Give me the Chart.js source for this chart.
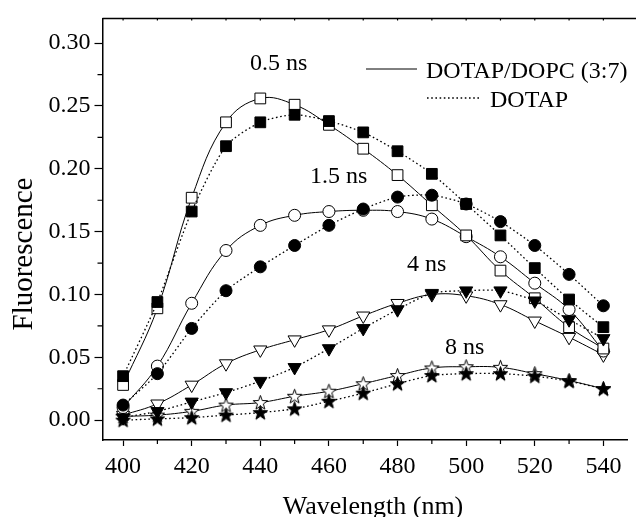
<!DOCTYPE html>
<html>
<head>
<meta charset="utf-8">
<script src="https://cdn.jsdelivr.net/npm/chart.js@4/dist/chart.umd.min.js"></script>
<style>
  html, body { margin: 0; padding: 0; background: #fff; overflow: hidden; }
  #wrap { width: 636px; height: 517px; position: relative; }
</style>
</head>
<body>
<div id="wrap"><canvas id="c" width="636" height="517"></canvas></div>
<script>
// ---- data ----
const wavelengths = [400, 410, 420, 430, 440, 450, 460, 470, 480, 490, 500, 510, 520, 530, 540];

// DOTAP/DOPC (3:7) — open symbols, solid lines
const mix05 = [0.028, 0.089, 0.177, 0.237, 0.256, 0.251, 0.235, 0.216, 0.195, 0.171, 0.147, 0.119, 0.097, 0.074, 0.057];
const mix15 = [0.010, 0.043, 0.093, 0.135, 0.155, 0.163, 0.166, 0.167, 0.166, 0.160, 0.146, 0.130, 0.109, 0.088, 0.055];
const mix4  = [0.004, 0.013, 0.028, 0.045, 0.056, 0.064, 0.072, 0.083, 0.093, 0.100, 0.099, 0.092, 0.079, 0.066, 0.052];
const mix8  = [0.003, 0.004, 0.007, 0.012, 0.014, 0.019, 0.023, 0.029, 0.0355, 0.0415, 0.0425, 0.042, 0.037, 0.0315, 0.025];

// DOTAP — filled symbols, dotted lines
const dot05 = [0.035, 0.094, 0.166, 0.218, 0.237, 0.243, 0.238, 0.229, 0.214, 0.196, 0.172, 0.147, 0.121, 0.096, 0.074];
const dot15 = [0.012, 0.037, 0.073, 0.103, 0.122, 0.139, 0.155, 0.168, 0.1775, 0.179, 0.172, 0.158, 0.139, 0.116, 0.091];
const dot4  = [0.002, 0.007, 0.0145, 0.022, 0.031, 0.042, 0.057, 0.073, 0.088, 0.101, 0.103, 0.103, 0.095, 0.080, 0.065];
const dot8  = [0.000, 0.001, 0.002, 0.004, 0.006, 0.009, 0.015, 0.0215, 0.029, 0.0355, 0.037, 0.037, 0.035, 0.031, 0.025];

const xTicks = [400, 420, 440, 460, 480, 500, 520, 540];
const xMinorTicks = [410, 430, 450, 470, 490, 510, 530];
const yTicks = [0.00, 0.05, 0.10, 0.15, 0.20, 0.25, 0.30];
const yMinorTicks = [0.025, 0.075, 0.125, 0.175, 0.225, 0.275];

const legendLabels = ['DOTAP/DOPC (3:7)', 'DOTAP'];
const timeLabels = ['0.5 ns', '1.5 ns', '4 ns', '8 ns'];
const xTitle = 'Wavelength (nm)';
const yTitle = 'Fluorescence';

// ---- star point style ----
function makeStar(filled) {
  const s = 17, c = document.createElement('canvas');
  c.width = s; c.height = s;
  const g = c.getContext('2d');
  const cx = s / 2, cy = s / 2 + 0.5, R = 7.6, r = 3.1;
  g.beginPath();
  for (let i = 0; i < 10; i++) {
    const a = -Math.PI / 2 + i * Math.PI / 5;
    const rad = i % 2 === 0 ? R : r;
    const px = cx + rad * Math.cos(a), py = cy + rad * Math.sin(a);
    if (i === 0) g.moveTo(px, py); else g.lineTo(px, py);
  }
  g.closePath();
  g.fillStyle = filled ? '#000' : '#fff';
  g.fill();
  g.lineWidth = 1;
  g.strokeStyle = '#000';
  g.stroke();
  return c;
}
const starOpen = makeStar(false);
const starFilled = makeStar(true);

function pts(arr) { return wavelengths.map((w, i) => ({ x: w, y: arr[i] })); }

const FONT = "'Liberation Serif', 'Times New Roman', serif";

function ds(arr, filled, style, radius, rotation) {
  return {
    data: pts(arr),
    borderColor: '#000',
    borderWidth: filled ? 1.3 : 1,
    borderDash: filled ? [1.6, 2.6] : [],
    tension: filled ? 0.25 : 0.4,
    pointStyle: style,
    pointRadius: radius,
    pointRotation: rotation || 0,
    pointBackgroundColor: filled ? '#000' : '#fff',
    pointBorderColor: '#000',
    pointBorderWidth: 1,
    fill: false,
    clip: false
  };
}

const datasets = [
  ds(dot05, true, 'rect', 7.6),
  ds(dot15, true, 'circle', 6),
  ds(dot4, true, 'triangle', 7.6, 180),
  ds(dot8, true, starFilled, 7),
  ds(mix05, false, 'rect', 7.6),
  ds(mix15, false, 'circle', 6),
  ds(mix4, false, 'triangle', 7.6, 180),
  ds(mix8, false, starOpen, 7)
];

const decor = {
  id: 'decor',
  afterDraw(chart) {
    const ctx = chart.ctx, a = chart.chartArea;
    const xs = chart.scales.x, ys = chart.scales.y;
    ctx.save();
    ctx.strokeStyle = '#000';
    // top border
    ctx.lineWidth = 1.5;
    ctx.beginPath();
    ctx.moveTo(a.left, a.top);
    ctx.lineTo(636, a.top);
    ctx.stroke();
    ctx.lineWidth = 1.2;
    // minor ticks
    ctx.beginPath();
    xMinorTicks.forEach(v => {
      const px = xs.getPixelForValue(v);
      ctx.moveTo(px, a.bottom); ctx.lineTo(px, a.bottom + 4);
    });
    yMinorTicks.forEach(v => {
      const py = ys.getPixelForValue(v);
      ctx.moveTo(a.left, py); ctx.lineTo(a.left - 5, py);
    });
    // tiny inward ticks on top
    xTicks.concat(xMinorTicks).forEach(v => {
      const px = xs.getPixelForValue(v);
      ctx.moveTo(px, a.top); ctx.lineTo(px, a.top + 2);
    });
    ctx.stroke();

    // axis titles
    ctx.fillStyle = '#000';
    ctx.textAlign = 'center';
    ctx.textBaseline = 'alphabetic';
    ctx.font = '26px ' + FONT;
    ctx.fillText(xTitle, 373, 514);
    ctx.save();
    ctx.translate(32, 254);
    ctx.rotate(-Math.PI / 2);
    ctx.font = '29px ' + FONT;
    ctx.fillText(yTitle, 0, 0);
    ctx.restore();

    // series annotations
    ctx.font = '24px ' + FONT;
    ctx.textAlign = 'left';
    ctx.fillText(timeLabels[0], 250, 70);
    ctx.fillText(timeLabels[1], 310, 183);
    ctx.fillText(timeLabels[2], 407, 271);
    ctx.fillText(timeLabels[3], 445, 354);

    // legend
    ctx.lineWidth = 1;
    ctx.setLineDash([]);
    ctx.beginPath();
    ctx.moveTo(366, 69); ctx.lineTo(417, 69);
    ctx.stroke();
    ctx.lineWidth = 1.3;
    ctx.setLineDash([1.6, 2.6]);
    ctx.beginPath();
    ctx.moveTo(427, 98); ctx.lineTo(480, 98);
    ctx.stroke();
    ctx.setLineDash([]);
    ctx.font = '24px ' + FONT;
    ctx.textBaseline = 'alphabetic';
    ctx.fillText(legendLabels[0], 426, 78);
    ctx.fillText(legendLabels[1], 490, 107);
    ctx.restore();
  }
};

new Chart(document.getElementById('c'), {
  type: 'line',
  data: { datasets },
  plugins: [decor],
  options: {
    responsive: false,
    animation: false,
    events: [],
    layout: { padding: { left: 0, top: 15, right: 0, bottom: 0 } },
    plugins: { legend: { display: false }, tooltip: { enabled: false }, title: { display: false } },
    scales: {
      x: {
        type: 'linear',
        min: 394,
        max: 547,
        afterFit(s) { s.height = 77; },
        afterBuildTicks(s) { s.ticks = xTicks.map(v => ({ value: v })); },
        border: { display: true, color: '#000', width: 1.5 },
        grid: { drawOnChartArea: false, drawTicks: true, tickLength: 6, color: '#000', tickColor: '#000', tickWidth: 1.2 },
        ticks: { color: '#000', font: { family: FONT, size: 24 }, padding: 6, maxRotation: 0, autoSkip: false,
                 callback: v => String(v) }
      },
      y: {
        type: 'linear',
        min: -0.0158,
        max: 0.3197,
        afterFit(s) { s.width = 102.5; },
        afterBuildTicks(s) { s.ticks = yTicks.map(v => ({ value: v })); },
        border: { display: true, color: '#000', width: 1.5 },
        grid: { drawOnChartArea: false, drawTicks: true, tickLength: 8, color: '#000', tickColor: '#000', tickWidth: 1.2 },
        ticks: { color: '#000', font: { family: FONT, size: 24 }, padding: 4, autoSkip: false,
                 callback: v => Number(v).toFixed(2) }
      }
    }
  }
});
</script>
</body>
</html>
